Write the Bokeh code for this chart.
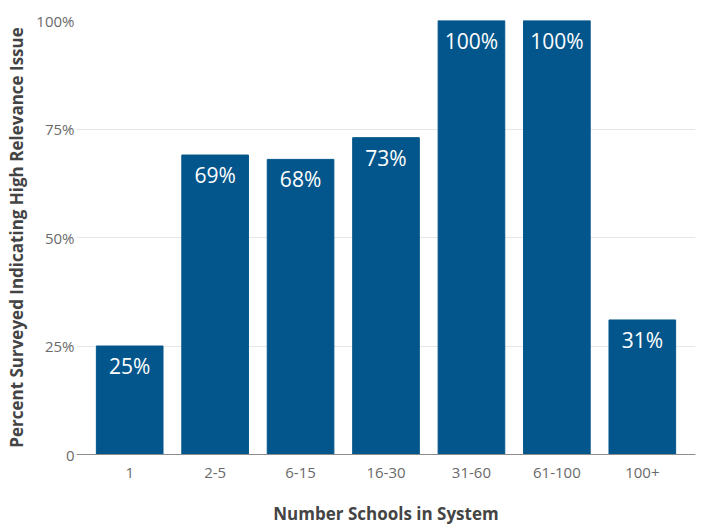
from bokeh.plotting import figure
from bokeh.models import ColumnDataSource, FixedTicker
from bokeh.core.properties import value
from bokeh.embed import file_html
from bokeh.resources import INLINE

# Share of surveyed systems indicating a high-relevance issue, by system size
categories = ["1", "2-5", "6-15", "16-30", "31-60", "61-100", "100+"]
percents = [25, 69, 68, 73, 100, 100, 31]
y_ticks = [0, 25, 50, 75, 100]
y_tick_labels = {0: "0", 25: "25%", 50: "50%", 75: "75%", 100: "100%"}

FONT = "Open Sans"
BAR_COLOR = "#03568B"

source = ColumnDataSource(dict(
    cat=categories,
    pct=percents,
    label=[f"{v}%" for v in percents],
))

p = figure(
    x_range=categories,
    y_range=(0, 100),
    width=704,
    height=527,
    output_backend="svg",
    toolbar_location=None,
    min_border_left=76,
    min_border_right=9,
    min_border_top=20,
    min_border_bottom=73,
)
p.x_range.range_padding = 0.035

p.vbar(x="cat", top="pct", width=0.78, color=BAR_COLOR, source=source)

p.text(
    x="cat", y="pct", text="label", source=source,
    text_align="center", text_baseline="top", y_offset=6,
    text_color="white", text_font=value(FONT), text_font_size="21px",
)

p.outline_line_color = None
p.background_fill_color = "white"
p.border_fill_color = "white"

# Y axis
p.yaxis.ticker = FixedTicker(ticks=y_ticks)
p.yaxis.major_label_overrides = y_tick_labels
p.yaxis.axis_line_color = None
p.yaxis.major_tick_line_color = None
p.yaxis.major_tick_out = 0
p.yaxis.major_tick_in = 0
p.yaxis.minor_tick_line_color = None
p.yaxis.minor_tick_out = 0
p.yaxis.major_label_standoff = 2
p.yaxis.major_label_text_font = FONT
p.yaxis.major_label_text_font_size = "15px"
p.yaxis.major_label_text_color = "#6a6a6a"
p.yaxis.axis_label = "Percent Surveyed Indicating High Relevance Issue"
p.yaxis.axis_label_text_font = FONT
p.yaxis.axis_label_text_font_style = "bold"
p.yaxis.axis_label_text_font_size = "17px"
p.yaxis.axis_label_text_color = "#444444"
p.yaxis.axis_label_standoff = 5

# X axis
p.xaxis.axis_line_color = "#8c8c8c"
p.xaxis.axis_line_width = 1
p.xaxis.major_tick_line_color = None
p.xaxis.major_tick_out = 0
p.xaxis.major_tick_in = 0
p.xaxis.minor_tick_line_color = None
p.xaxis.minor_tick_out = 0
p.xaxis.major_label_standoff = 13
p.xaxis.major_label_text_font = FONT
p.xaxis.major_label_text_font_size = "15px"
p.xaxis.major_label_text_color = "#6a6a6a"
p.xaxis.axis_label = "Number Schools in System"
p.xaxis.axis_label_text_font = FONT
p.xaxis.axis_label_text_font_style = "bold"
p.xaxis.axis_label_text_font_size = "17px"
p.xaxis.axis_label_text_color = "#444444"
p.xaxis.axis_label_standoff = 21

# Grid
p.xgrid.grid_line_color = None
p.ygrid.grid_line_color = "#e6e6e6"
p.ygrid.grid_line_width = 1

open("out.html", "w").write(file_html(p, INLINE))
